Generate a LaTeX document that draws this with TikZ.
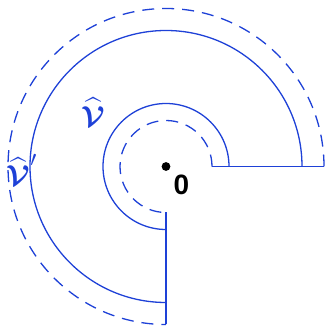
\documentclass[tikz,border=0pt]{standalone}
\usepackage{amsmath}
\usepackage{fontspec}
\newfontfamily\lsans{Liberation Sans}
\definecolor{vblue}{RGB}{30,65,215}
\begin{document}
\begin{tikzpicture}[x=0.5pt,y=0.5pt,
  solidline/.style={draw=vblue,line width=0.65pt},
  dashline/.style={draw=vblue,line width=0.65pt,dash pattern=on 6pt off 4pt},
  lbl/.style={text=vblue,inner sep=0pt,font=\fontsize{15}{17}\selectfont}]
\useasboundingbox (0,0) rectangle (326,326);
\coordinate (O) at (166,159.5);
% solid arcs
\draw[solidline] ([xshift=136*0.5pt]O) arc[start angle=0,end angle=270,radius=136];
\draw[solidline] ([xshift=63*0.5pt]O) arc[start angle=0,end angle=270,radius=63];
% dashed arcs
\draw[dashline] ([xshift=158*0.5pt]O) arc[start angle=0,end angle=270,radius=158];
\draw[dashline] ([xshift=46*0.5pt]O) arc[start angle=0,end angle=270,radius=46];
% straight edges
\coordinate (h1) at ([xshift=46*0.5pt]O);
\coordinate (h2) at ([xshift=158*0.5pt]O);
\coordinate (v1) at ([yshift=-46*0.5pt]O);
\coordinate (v2) at ([yshift=-158*0.5pt]O);
\draw[solidline] (h1) -- (h2);
\draw[solidline] (v1) -- (v2);
% origin
\fill (O) circle[radius=2.2pt];
\node[inner sep=0pt,font=\lsans\bfseries\fontsize{14}{16}\selectfont] (zero) at (181.5,141) {0};
\node[lbl] (V) at (93,214) {$\widehat{\boldsymbol{\mathcal{V}}}$};
\node[lbl] (Vp) at (22,156) {$\widehat{\boldsymbol{\mathcal{V}}}'$};
\end{tikzpicture}
\end{document}
